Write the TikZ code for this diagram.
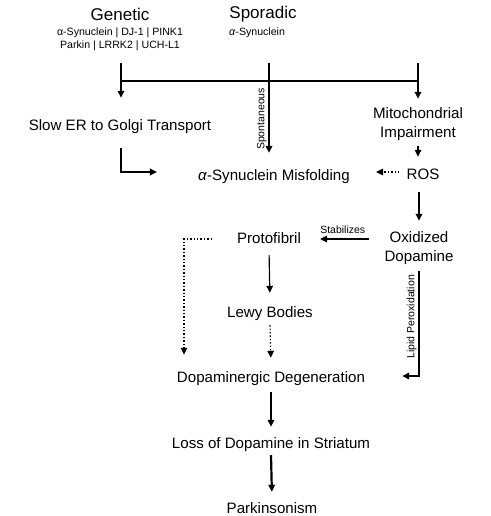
\documentclass[tikz,border=0pt]{standalone}
\usepackage{fontspec}
\setmainfont{Liberation Sans}
\usetikzlibrary{
	arrows.meta
}

\begin{document}
\begin{tikzpicture}[
	x = 1pt, y = -1pt,
	cause/.style = {
		font=\fontsize{17}{19}\selectfont,
		inner sep=0pt
	},
	genes/.style = {
		font=\fontsize{10.6}{13}\selectfont,
		inner sep=0pt, align=center
	},
	stage/.style = {
		font=\fontsize{15.1}{19}\selectfont,
		text height=11pt, text depth=3pt,
		inner sep=4pt, align=center
	},
	two lines/.style = {
		stage, text height=, text depth=
	},
	tag/.style = {
		font=\fontsize{10.5}{12}\selectfont,
		inner sep=1.5pt
	},
	link/.style = {
		-{Triangle[length=7pt, width=6.5pt]},
		line width=1.8pt
	},
	thin link/.style = {
		link, line width=1.2pt
	},
	weak link/.style = {
		link, line width=1.4pt, dotted
	}
]
	\useasboundingbox (0,0) rectangle (490,516);

	\node [cause] (genetic) at (120,14) {Genetic};
	\node [genes, anchor=north] (genelist) at (120,28) {α-Synuclein | DJ-1 | PINK1\\Parkin | LRRK2 | UCH-L1};
	\node [cause] (sporadic) at (263,14) {Sporadic};
	\node [genes, anchor=west] (sporlist) at (229,33) {\textit{α}-Synuclein};

	\node [stage] (slow) at (120,126) {Slow ER to Golgi Transport};
	\node [two lines] (mito) at (418,124) {Mitochondrial\\Impairment};
	\node [stage] (misfold) at (274,176) {\textit{α}-Synuclein Misfolding};
	\node [stage] (ros) at (423,175) {ROS};
	\node [stage] (proto) at (269,239) {Protofibril};
	\node [two lines] (oxdop) at (419,248) {Oxidized\\Dopamine};
	\node [stage] (lewy) at (270,313) {Lewy Bodies};
	\node [stage] (degen) at (271,378) {Dopaminergic Degeneration};
	\node [stage] (loss) at (271,444) {Loss of Dopamine in Striatum};
	\node [stage] (parkinsonism) at (272,509) {Parkinsonism};

	\coordinate (gen drop) at (121,63);
	\coordinate (spor drop) at (269,63);
	\coordinate (mito drop) at (418,63);
	\coordinate (fork) at (269,81);
	\coordinate (bypass) at (184,239);

	\draw [line width=1.4pt] (gen drop |- fork) -- (mito drop |- fork);
	\draw [link, shorten >=17pt] (gen drop) -- (gen drop |- slow.north);
	\draw [link, shorten >=4.5pt] (mito drop) -- (mito drop |- mito.north);
	\draw [link, shorten >=12pt] (spor drop) -- (spor drop |- misfold.north)
		node [tag, rotate=90, anchor=south, pos=0.55] {Spontaneous};

	\draw [link, shorten <=11pt, shorten >=37pt]
		([xshift=1pt]slow.south) |- ([yshift=4pt]misfold.west);
	\draw [link, line width=1.5pt, shorten <=1pt, shorten >=7pt] (mito.south) -- (mito.south |- ros.north);
	\draw [weak link, shorten <=3pt, shorten >=22pt]
		([yshift=3pt]ros.west) -- ([yshift=3pt]ros.west -| misfold.east);
	\draw [link, shorten <=6pt, shorten >=6.5pt] (oxdop.north |- ros.south) -- (oxdop.north);

	\draw [link, shorten <=11pt, shorten >=15pt] (oxdop.west |- proto.east) -- (proto.east)
		node [tag, midway, above=3pt] {Stabilizes};
	\draw [weak link, shorten <=21pt, shorten >=12pt]
		(proto.west) -- (bypass) -- (bypass |- degen.north);
	\draw [thin link, shorten <=5pt, shorten >=9pt] (proto.south) -- (lewy.north);
	\draw [weak link, line width=1.2pt, shorten <=1pt, shorten >=9pt] (lewy.south) -- (degen.north);
	\draw [link, shorten <=2.5pt, shorten >=33pt]
		(oxdop.south) |- ([yshift=2pt]degen.east)
		node [tag, rotate=90, anchor=south, pos=0.224] {Lipid Peroxidation};

	\draw [link, line width=2.2pt, shorten <=3pt, shorten >=6pt] (degen.south) -- (loss.north);
	\draw [link, line width=2.2pt, shorten >=6pt] (loss.south) -- (parkinsonism.north);
\end{tikzpicture}
\end{document}
